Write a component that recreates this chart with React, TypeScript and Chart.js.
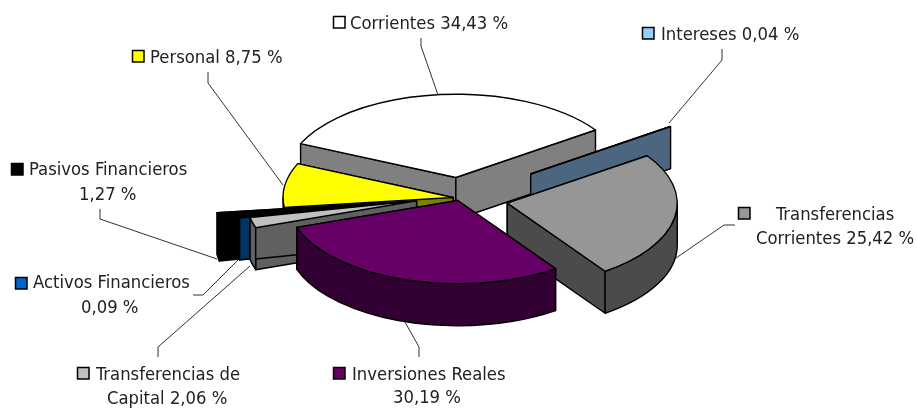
import React, { useEffect, useRef } from "react";
import { Chart, registerables } from "chart.js";

Chart.register(...registerables);

const categories = [
  "Corrientes",
  "Intereses",
  "Transferencias Corrientes",
  "Inversiones Reales",
  "Transferencias de Capital",
  "Activos Financieros",
  "Pasivos Financieros",
  "Personal",
];
const shares = [34.43, 0.04, 25.42, 30.19, 2.06, 0.09, 1.27, 8.75];
const topColors = ["#ffffff", "#99ccff", "#969696", "#660066", "#c0c0c0", "#0066cc", "#000000", "#ffff00"];
const wallColors = ["#808080", "#4d6680", "#4b4b4b", "#330033", "#606060", "#003366", "#000000", "#808000"];

// Style only: how far each slice is pulled out of the pie, a small extra shift, and the paint order.
const explode = [44, 86, 48, 1, 45, 55, 75, 7];
const nudgeX = [0, 0, 0, -2, 0, 0, 0, 0];
const nudgeY = [0, -1, 0, 1, -4, -3, -2, -1];
const paintOrder = [0, 1, 2, 7, 6, 5, 4, 3];
const TILT = 0.49;
const DEPTH = 42;
const FONT = "18.3px 'DejaVu Sans Condensed', 'DejaVu Sans', sans-serif";

// Label layout: text lines [text, x, baseline], swatch origin, leader polyline.
const labels = [
  { i: 0, lines: [["Corrientes 34,43 %", 350, 29]], swatch: [333, 16], leader: [[421, 38], [421, 46], [438, 95]] },
  { i: 1, lines: [["Intereses 0,04 %", 661, 40]], swatch: [642, 27], leader: [[722, 49], [722, 60], [669, 123]] },
  { i: 2, lines: [["Transferencias", 776, 220], ["Corrientes 25,42 %", 756, 244]], swatch: [738, 207], leader: [[735, 225], [724, 225], [676, 258]] },
  { i: 3, lines: [["Inversiones Reales", 352, 380], ["30,19 %", 393, 403]], swatch: [333, 367], leader: [[419, 357], [419, 347], [405, 322]] },
  { i: 4, lines: [["Transferencias de", 96, 380], ["Capital 2,06 %", 107, 404]], swatch: [77, 367], leader: [[158, 357], [158, 347], [250, 266]] },
  { i: 5, lines: [["Activos Financieros", 33, 288], ["0,09 %", 81, 313]], swatch: [15, 277], leader: [[193, 295], [203, 295], [240, 258]] },
  { i: 6, lines: [["Pasivos Financieros", 29, 175], ["1,27 %", 79, 200]], swatch: [11, 163], leader: [[100, 209], [100, 219], [217, 259]] },
  { i: 7, lines: [["Personal 8,75 %", 150, 63]], swatch: [132, 50], leader: [[208, 72], [208, 83], [283, 185]] },
];

const pie3d = {
  id: "pie3d",
  beforeDatasetDraw(chart: any) {
    const ctx = chart.ctx as CanvasRenderingContext2D;
    const arcs = chart.getDatasetMeta(0).data;
    const edge = "#000000";
    for (const i of paintOrder) {
      const arc = arcs[i];
      const { x, y, startAngle: a0, endAngle: a1, outerRadius: R } = arc;
      const mid = (a0 + a1) / 2;
      const ax = x + Math.cos(mid) * explode[i] + nudgeX[i];
      const ay = y + Math.sin(mid) * explode[i] * TILT + nudgeY[i];
      const rim = (a: number) => [ax + Math.cos(a) * R, ay + Math.sin(a) * R * TILT];
      ctx.save();
      ctx.lineWidth = 1.4;
      ctx.lineJoin = "round";
      ctx.strokeStyle = edge;
      ctx.fillStyle = wallColors[i];
      // radial cut faces
      for (const a of [a0, a1]) {
        const [rx, ry] = rim(a);
        ctx.beginPath();
        ctx.moveTo(ax, ay);
        ctx.lineTo(rx, ry);
        ctx.lineTo(rx, ry + DEPTH);
        ctx.lineTo(ax, ay + DEPTH);
        ctx.closePath();
        ctx.fill();
        ctx.stroke();
      }
      // outer face: only the front half of the rim
      for (let k = -1; k <= 2; k++) {
        const f0 = Math.max(a0, 2 * Math.PI * k);
        const f1 = Math.min(a1, 2 * Math.PI * k + Math.PI);
        if (f1 <= f0) continue;
        ctx.beginPath();
        ctx.ellipse(ax, ay, R, R * TILT, 0, f0, f1);
        ctx.ellipse(ax, ay + DEPTH, R, R * TILT, 0, f1, f0, true);
        ctx.closePath();
        ctx.fill();
        ctx.stroke();
      }
      // top face, drawn by the arc element itself on a tilted plane
      ctx.save();
      ctx.translate(ax, ay);
      ctx.scale(1, TILT);
      ctx.translate(-x, -y);
      arc.draw(ctx);
      ctx.restore();
      ctx.beginPath();
      ctx.moveTo(ax, ay);
      ctx.ellipse(ax, ay, R, R * TILT, 0, a0, a1);
      ctx.closePath();
      ctx.stroke();
      ctx.restore();
    }
    return false;
  },
  afterDraw(chart: any) {
    const ctx = chart.ctx as CanvasRenderingContext2D;
    ctx.save();
    ctx.font = FONT;
    ctx.textBaseline = "alphabetic";
    ctx.textAlign = "left";
    for (const l of labels) {
      ctx.strokeStyle = "#1a1a1a";
      ctx.lineWidth = 0.9;
      ctx.beginPath();
      l.leader.forEach((p, n) => (n ? ctx.lineTo(p[0], p[1]) : ctx.moveTo(p[0], p[1])));
      ctx.stroke();
      ctx.fillStyle = topColors[l.i];
      ctx.fillRect(l.swatch[0] + 0.5, l.swatch[1] + 0.5, 11.5, 11.5);
      ctx.strokeStyle = "#000000";
      ctx.lineWidth = 1.5;
      ctx.strokeRect(l.swatch[0] + 0.5, l.swatch[1] + 0.5, 11.5, 11.5);
      ctx.fillStyle = "#222222";
      for (const [t, tx, ty] of l.lines as [string, number, number][]) ctx.fillText(t, tx, ty);
    }
    ctx.restore();
  },
};

export default function App() {
  const ref = useRef<HTMLCanvasElement>(null);
  useEffect(() => {
    document.body.style.margin = "0";
    const chart = new Chart(ref.current as HTMLCanvasElement, {
      type: "pie",
      data: {
        labels: categories,
        datasets: [{ data: shares, backgroundColor: topColors, borderWidth: 0 }],
      },
      options: {
        responsive: false,
        animation: false,
        rotation: 294,
        radius: 170,
        layout: { padding: { left: 3, bottom: 10 } },
        plugins: { legend: { display: false }, tooltip: { enabled: false } },
      },
      plugins: [pie3d],
    } as any);
    return () => chart.destroy();
  }, []);
  return <canvas ref={ref} width={917} height={408} style={{ display: "block" }} />;
}
